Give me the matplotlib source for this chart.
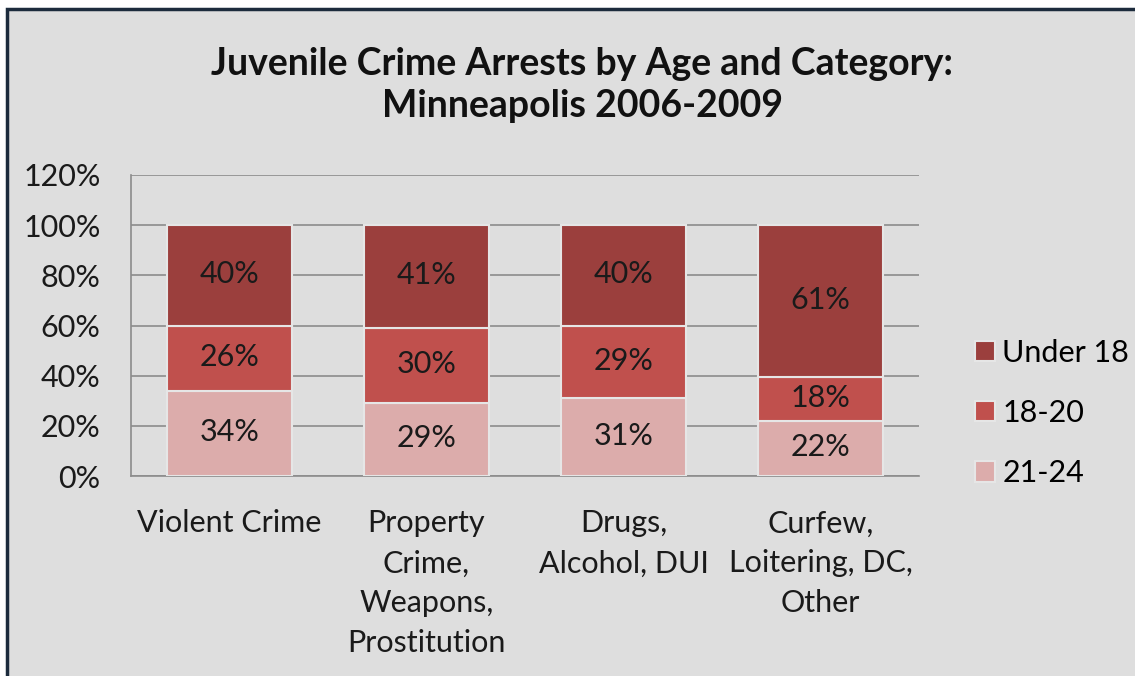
import matplotlib.pyplot as plt
import numpy as np
from matplotlib.patches import Rectangle

categories = ['Violent Crime', 'Property\nCrime,\nWeapons,\nProstitution',
              'Drugs,\nAlcohol, DUI', 'Curfew,\nLoitering, DC,\nOther']
series = ['21-24', '18-20', 'Under 18']
age_21_24 = [34, 29, 31, 22]
age_18_20 = [26, 30, 29, 18]
under_18 = [40, 41, 40, 61]
colors = ['#dcacab', '#c0504d', '#9b3f3d']
yticks = [0, 20, 40, 60, 80, 100, 120]

plt.rcParams['font.family'] = ['Lato', 'DejaVu Sans']

fig = plt.figure(figsize=(11.35, 6.76), dpi=100)
fig.patch.set_facecolor('white')
# grey chart area with dark frame (cut off at right/bottom like the source)
fig.patches.append(Rectangle((7 / 1135, -0.1), 1.2, 1 - 9 / 676 + 0.1, transform=fig.transFigure,
                             facecolor='#dedede', edgecolor='#1c2b3c', linewidth=2.5, zorder=-1))

ax = fig.add_axes([131 / 1135, 1 - 476 / 676, (919 - 131) / 1135, (476 - 175) / 676])
ax.set_facecolor('#dedede')

vals = np.array([age_21_24, age_18_20, under_18], dtype=float)
shares = vals / vals.sum(axis=0) * 100
x = np.arange(len(categories))
bottom = np.zeros(len(categories))
for i, name in enumerate(series):
    bars = ax.bar(x, shares[i], 0.635, bottom=bottom, color=colors[i], label=name,
                  edgecolor='#e6e6e6', linewidth=1.5, zorder=3)
    for b, v in zip(bars, vals[i]):
        ax.text(b.get_x() + b.get_width() / 2, b.get_y() + b.get_height() / 2 + 0.5,
                f'{int(v)}%', ha='center', va='center', fontsize=22, color='#1a1a1a', zorder=4)
    bottom += shares[i]

ax.set_xlim(-0.5, len(categories) - 0.5)
ax.set_ylim(0, 120)
ax.set_yticks(yticks)
ax.set_yticklabels([f'{t}%' for t in yticks], fontsize=22, color='#1a1a1a')
ax.set_xticks(x)
ax.set_xticklabels(categories, fontsize=22, color='#1a1a1a', linespacing=1.52, va='top')
ax.tick_params(length=0)
ax.tick_params(axis='y', pad=22)
ax.tick_params(axis='x', pad=24)
ax.yaxis.grid(True, color='#8c8c8c', linewidth=1.2, zorder=0)
ax.set_axisbelow(True)
for s in ['top', 'right']:
    ax.spines[s].set_visible(False)
for s in ['left', 'bottom']:
    ax.spines[s].set_color('#8c8c8c')
    ax.spines[s].set_linewidth(1.2)

handles, labels = ax.get_legend_handles_labels()
leg = fig.legend(handles[::-1], labels[::-1], loc='center left', bbox_to_anchor=(975 / 1135, 1 - 413 / 676),
                 frameon=False, fontsize=22, handlelength=0.65, handleheight=0.65, handletextpad=0.25,
                 labelspacing=1.05, borderpad=0, borderaxespad=0)

fig.text(0.513, 1 - 85 / 676, 'Juvenile Crime Arrests by Age and Category:\nMinneapolis 2006-2009',
         ha='center', va='center', fontsize=27, fontweight='bold', linespacing=1.32, color='#111111')

plt.savefig('out.png', dpi=100)
